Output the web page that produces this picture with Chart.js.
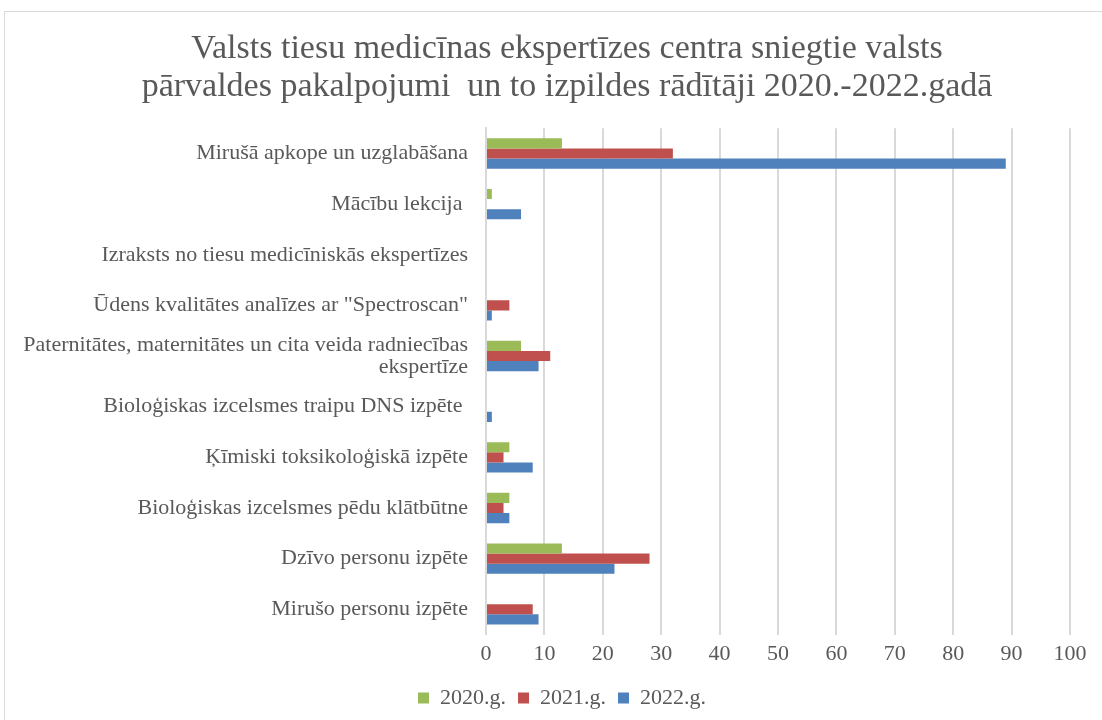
<!DOCTYPE html>
<html>
<head>
<meta charset="utf-8">
<script src="https://cdn.jsdelivr.net/npm/chart.js@4/dist/chart.umd.min.js"></script>
<style>
  html, body { margin: 0; padding: 0; background: #fff; }
  #wrap { position: relative; width: 1102px; height: 720px; }
  #frame { position: absolute; left: 4px; top: 11px; width: 1110px; height: 720px; border: 1px solid #d9d9d9; box-sizing: border-box; }
  canvas { position: absolute; left: 0; top: 0; }
</style>
</head>
<body>
<div id="wrap">
  <div id="frame"></div>
  <canvas id="chart" width="1102" height="720"></canvas>
</div>
<script>
// services, top to bottom
var categories = [
  "Mirušā apkope un uzglabāšana",
  "Mācību lekcija ",
  "Izraksts no tiesu medicīniskās ekspertīzes",
  "Ūdens kvalitātes analīzes ar \"Spectroscan\"",
  ["Paternitātes, maternitātes un cita veida radniecības", "ekspertīze"],
  "Bioloģiskas izcelsmes traipu DNS izpēte ",
  "Ķīmiski toksikoloģiskā izpēte",
  "Bioloģiskas izcelsmes pēdu klātbūtne",
  "Dzīvo personu izpēte",
  "Mirušo personu izpēte"
];
var values2020 = [13, 1, 0, 0, 6, 0, 4, 4, 13, 0];
var values2021 = [32, 0, 0, 4, 11, 0, 3, 3, 28, 8];
var values2022 = [89, 6, 0, 1, 9, 1, 8, 4, 22, 9];
var seriesNames = ["2020.g.", "2021.g.", "2022.g."];
var xMax = 100;
var xStep = 10;

var textColor = "#595959";
var serif = "'Liberation Serif', 'Times New Roman', serif";

// the original frame is wider than the window, so title and legend sit right of centre
var shiftBoxes = {
  id: "shiftBoxes",
  afterLayout: function(chart) {
    chart.titleBlock.left += 29;
    chart.titleBlock.right += 29;
    chart.legend.left += 24;
    chart.legend.right += 24;
  }
};

var ctx = document.getElementById("chart").getContext("2d");
var chart = new Chart(ctx, {
  type: "bar",
  data: {
    labels: categories,
    datasets: [
      { label: seriesNames[0], data: values2020, backgroundColor: "#9bbb59" },
      { label: seriesNames[1], data: values2021, backgroundColor: "#c0504d" },
      { label: seriesNames[2], data: values2022, backgroundColor: "#4f81bd" }
    ]
  },
  plugins: [shiftBoxes],
  options: {
    indexAxis: "y",
    responsive: false,
    animation: false,
    layout: { padding: { left: 6, right: 32, top: 30, bottom: 1 } },
    datasets: {
      bar: { categoryPercentage: 0.6, barPercentage: 1, borderWidth: 0 }
    },
    scales: {
      x: {
        min: 0,
        max: xMax,
        afterFit: function(scale) { scale.height += 2; },
        ticks: {
          stepSize: xStep,
          color: textColor,
          font: { family: serif, size: 22 },
          padding: 6
        },
        grid: { color: "#d9d9d9", lineWidth: 2, drawTicks: false },
        border: { display: false }
      },
      y: {
        afterFit: function(scale) { scale.width = 480; },
        ticks: {
          color: textColor,
          font: { family: serif, size: 22, lineHeight: 1.0 },
          padding: 18,
          autoSkip: false
        },
        grid: { display: false, drawTicks: false },
        border: { color: "#d9d9d9", width: 2 }
      }
    },
    plugins: {
      title: {
        display: true,
        text: [
          "Valsts tiesu medicīnas ekspertīzes centra sniegtie valsts",
          "pārvaldes pakalpojumi  un to izpildes rādītāji 2020.-2022.gadā"
        ],
        color: textColor,
        font: { family: serif, size: 34, weight: "normal", lineHeight: 1.12 },
        padding: { top: 0, bottom: 22 }
      },
      legend: {
        position: "bottom",
        labels: {
          color: textColor,
          font: { family: serif, size: 22 },
          boxWidth: 11,
          boxHeight: 11,
          padding: 12
        }
      },
      tooltip: { enabled: false }
    }
  }
});
</script>
</body>
</html>
